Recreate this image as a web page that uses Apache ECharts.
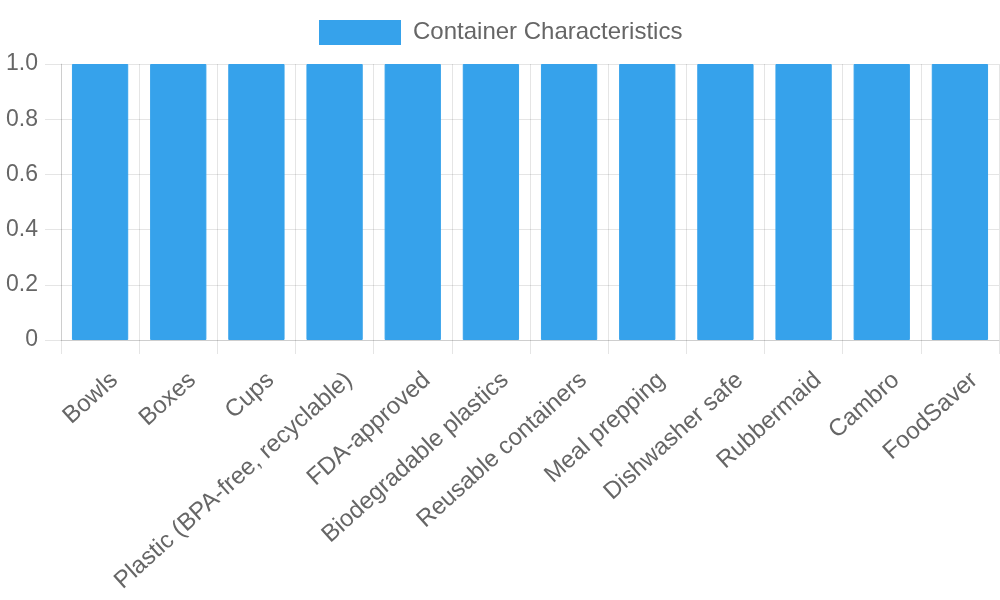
<!DOCTYPE html>
<html><head><meta charset="utf-8">
<script src="https://cdn.jsdelivr.net/npm/echarts@6/dist/echarts.min.js"></script>
<style>html,body{margin:0;padding:0;background:#fff}#c{width:1000px;height:600px}</style>
</head><body><div id="c"></div>
<script>
const categories = ["Bowls","Boxes","Cups","Plastic (BPA-free, recyclable)","FDA-approved","Biodegradable plastics","Reusable containers","Meal prepping","Dishwasher safe","Rubbermaid","Cambro","FoodSaver"];
const seriesName = "Container Characteristics";
const values = [1,1,1,1,1,1,1,1,1,1,1,1];
const yTicks = [0,0.2,0.4,0.6,0.8,1.0];

const font = "'Liberation Sans', Arial, Helvetica, sans-serif";
const gridColor = "rgba(0,0,0,0.1)";
const chart = echarts.init(document.getElementById('c'), null, {renderer:'canvas'});
chart.setOption({
  animation:false,
  legend:{
    top:20, left:319, itemWidth:80, itemHeight:23, padding:0,
    data:[seriesName],
    icon:'rect',
    textStyle:{color:'#666', fontSize:24, fontFamily:font, padding:[0,0,0,8]}
  },
  grid:{left:61, right:1, top:64, bottom:260, containLabel:false},
  xAxis:{
    type:'category', data:categories, boundaryGap:true,
    axisLine:{show:true, lineStyle:{color:gridColor, width:1}},
    axisTick:{show:true, length:14, lineStyle:{color:gridColor}},
    splitLine:{show:true, lineStyle:{color:gridColor, width:1}},
    axisLabel:{rotate:42, color:'#666', fontSize:24, fontFamily:font, margin:0, interval:0,
      align:'right', verticalAlign:'top', padding:[25,14,0,0]}
  },
  yAxis:{
    type:'value', min:yTicks[0], max:yTicks[yTicks.length-1], interval:0.2,
    axisLine:{show:true, lineStyle:{color:gridColor}},
    axisTick:{show:true, length:16, lineStyle:{color:gridColor}},
    splitLine:{show:true, lineStyle:{color:gridColor}},
    axisLabel:{color:'#666', fontSize:23, fontFamily:font, margin:23,
      formatter:v=> v===0 ? '0' : v.toFixed(1)}
  },
  series:[{
    name:seriesName, type:'bar', data:values, barCategoryGap:'28%',
    itemStyle:{color:'#36A2EB', borderColor:'#36A2EB', borderWidth:1}
  }]
});
</script></body></html>
